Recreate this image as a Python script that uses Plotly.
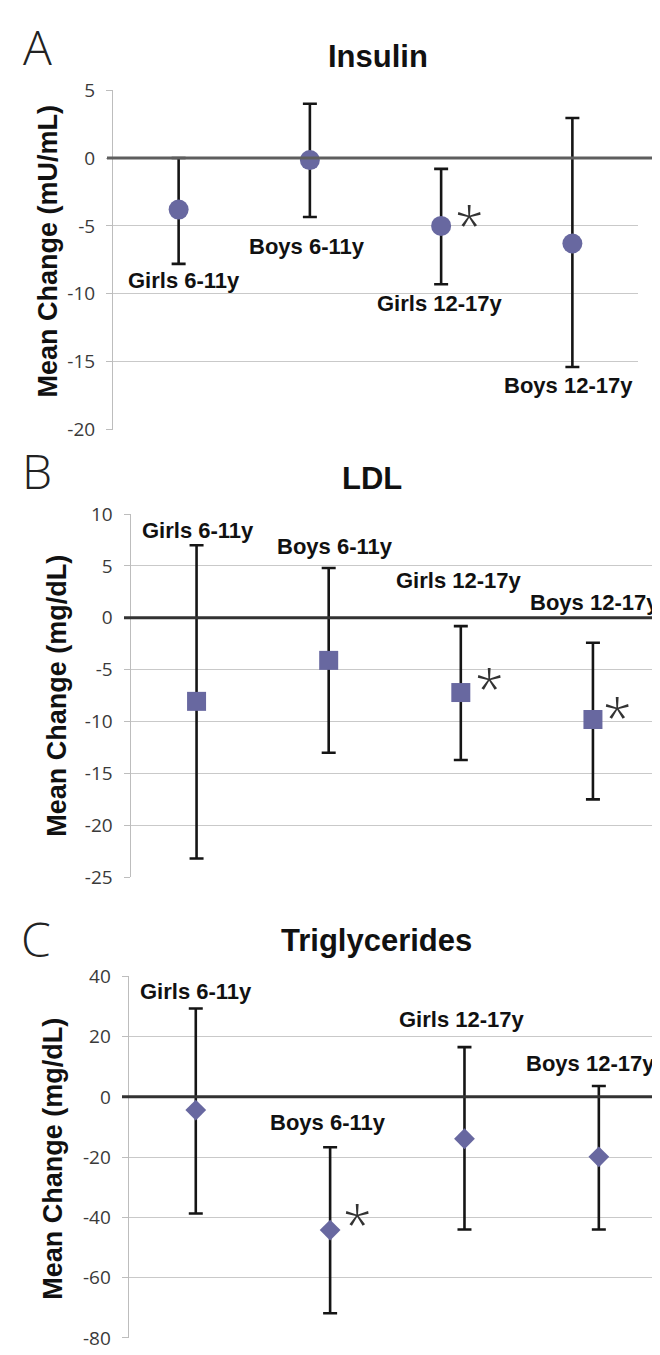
import plotly.graph_objects as go

# ---------------- data ----------------
groups = ["Girls 6-11y", "Boys 6-11y", "Girls 12-17y", "Boys 12-17y"]

insulin_mean = [-3.8, -0.15, -5.0, -6.3]
insulin_upper = [0.0, 4.0, -0.8, 2.95]
insulin_lower = [-7.8, -4.35, -9.3, -15.4]

ldl_mean = [-8.05, -4.1, -7.2, -9.8]
ldl_upper = [7.0, 4.8, -0.8, -2.4]
ldl_lower = [-23.2, -13.0, -13.7, -17.5]

tg_mean = [-4.4, -44.2, -13.9, -19.9]
tg_upper = [29.3, -16.7, 16.5, 3.6]
tg_lower = [-38.7, -71.8, -44.0, -44.0]

# group labels placed at these y values (data units)
insulin_label_y = [-9.05, -6.5, -10.75, -16.75]
ldl_label_y = [8.45, 6.9, 3.6, 1.5]
tg_label_y = [35.0, -8.5, 25.7, 11.0]

# significance marks: (group index, y value)
insulin_stars = [(2, -4.36)]
ldl_stars = [(2, -6.05), (3, -8.83)]
tg_stars = [(1, -39.6)]

insulin_ticks = [5, 0, -5, -10, -15, -20]
ldl_ticks = [10, 5, 0, -5, -10, -15, -20, -25]
tg_ticks = [40, 20, 0, -20, -40, -60, -80]

# ---------------- layout helpers ----------------
W, H = 660, 1355


def fx(p):
    return p / W


def fy(p):
    return 1 - p / H


MARKER_COLOR = "#6868a0"
BAR_COLOR = "#151515"
GRID = "#c9c9c9"
LABEL_FONT = dict(family="Liberation Sans, Arial, sans-serif", size=22, color="#111111")
TITLE_FONT = dict(family="Liberation Sans, Arial, sans-serif", size=31, color="#111111")
TICK_FONT = dict(family="Open Sans, sans-serif", size=19, color="#3a3a3a")
STAR_FONT = dict(family="Open Sans, sans-serif", size=52, color="#333333", weight=300)

panels = [
    dict(letter="A", title="Insulin", ytitle="Mean Change (mU/mL)",
         mean=insulin_mean, up=insulin_upper, lo=insulin_lower,
         labels_y=insulin_label_y, label_dx=[5, -3, -1, -4],
         stars=insulin_stars, ticks=insulin_ticks,
         symbol="circle", msize=20,
         xl=105, xr=630, yt=70.5, yb=416.5, zx0=99, zx1=646, zcol="#5e5e5e",
         letter_xy=(29, 26), title_xy=(370, 36), ytitle_xy=(40, 235),
         star_shift=[28]),
    dict(letter="B", title="LDL", ytitle="Mean Change (mg/dL)",
         mean=ldl_mean, up=ldl_upper, lo=ldl_lower,
         labels_y=ldl_label_y, label_dx=[1, 6, -2, 2],
         stars=ldl_stars, ticks=ldl_ticks,
         symbol="square", msize=19,
         xl=122.5, xr=651, yt=502.7, yb=873, zx0=116, zx1=659, zcol="#333333",
         letter_xy=(29, 458), title_xy=(364, 466), ytitle_xy=(49, 688),
         star_shift=[29, 25]),
    dict(letter="C", title="Triglycerides", ytitle="Mean Change (mg/dL)",
         mean=tg_mean, up=tg_upper, lo=tg_lower,
         labels_y=tg_label_y, label_dx=[0, -2, -2, -8],
         stars=tg_stars, ticks=tg_ticks,
         symbol="diamond", msize=16,
         xl=120.6, xr=658, yt=974, yb=1342.7, zx0=114, zx1=660, zcol="#333333",
         letter_xy=(28, 935), title_xy=(368, 937), ytitle_xy=(45, 1160),
         star_shift=[27]),
]

fig = go.Figure()
annotations = []
shapes = []
layout = {}

for i, p in enumerate(panels, start=1):
    xa = "x" if i == 1 else f"x{i}"
    ya = "y" if i == 1 else f"y{i}"
    xkey = "xaxis" if i == 1 else f"xaxis{i}"
    ykey = "yaxis" if i == 1 else f"yaxis{i}"

    plus = [u - m for u, m in zip(p["up"], p["mean"])]
    minus = [m - l for m, l in zip(p["mean"], p["lo"])]

    fig.add_trace(go.Scatter(
        x=groups, y=p["mean"], mode="markers", xaxis=xa, yaxis=ya,
        marker=dict(symbol=p["symbol"], size=p["msize"], color=MARKER_COLOR,
                    line=dict(width=0)),
        error_y=dict(type="data", symmetric=False, array=plus, arrayminus=minus,
                     color=BAR_COLOR, thickness=2.6, width=7),
        showlegend=False, hoverinfo="x+y", cliponaxis=False,
    ))

    ticks = p["ticks"]
    layout[xkey] = dict(
        domain=[fx(p["xl"]), fx(p["xr"])], anchor=ya, type="category",
        categoryorder="array", categoryarray=groups, range=[-0.5, 3.5],
        showticklabels=False, showgrid=False, zeroline=False, showline=False,
        ticks="", fixedrange=True,
    )
    layout[ykey] = dict(
        domain=[fy(p["yb"]), fy(p["yt"])], anchor=xa,
        range=[min(ticks), max(ticks)], tickvals=ticks,
        ticktext=[str(t) for t in ticks],
        showgrid=True, gridcolor=GRID, gridwidth=1, zeroline=False,
        showline=True, linecolor="#bdbdbd", linewidth=1,
        ticks="outside", ticklen=6, tickcolor="#bdbdbd", tickwidth=1,
        tickfont=TICK_FONT, ticklabelstandoff=7, fixedrange=True,
    )

    # zero reference line (extends past the plotting area as in the original)
    shapes.append(dict(type="line", xref="paper", yref=ya,
                       x0=fx(p["zx0"]), x1=fx(p["zx1"]), y0=0, y1=0,
                       line=dict(color=p["zcol"], width=3), layer="above"))

    # group labels
    for g, ly, dx in zip(groups, p["labels_y"], p["label_dx"]):
        annotations.append(dict(x=g, y=ly, xref=xa, yref=ya, text=f"<b>{g}</b>",
                                showarrow=False, font=LABEL_FONT, xshift=dx,
                                xanchor="center", yanchor="middle"))
    # significance stars
    for (gi, sy), sh in zip(p["stars"], p["star_shift"]):
        annotations.append(dict(x=groups[gi], y=sy, xref=xa, yref=ya, text="*",
                                showarrow=False, xshift=sh, yshift=-6,
                                font=STAR_FONT,
                                xanchor="center", yanchor="middle"))
    # panel letter
    lx, ly_ = p["letter_xy"]
    annotations.append(dict(x=fx(lx), y=fy(ly_), xref="paper", yref="paper",
                            text=p["letter"], showarrow=False,
                            font=dict(family="Open Sans, sans-serif", size=48,
                                      color="#222222", weight=300),
                            xanchor="center", yanchor="middle"))
    # panel title
    tx, ty = p["title_xy"]
    annotations.append(dict(x=fx(tx), y=fy(ty), xref="paper", yref="paper",
                            text=f"<b>{p['title']}</b>", showarrow=False,
                            font=TITLE_FONT, xanchor="center", yanchor="middle"))
    # y-axis title
    ax_, ay_ = p["ytitle_xy"]
    annotations.append(dict(x=fx(ax_), y=fy(ay_), xref="paper", yref="paper",
                            text=f"<b>{p['ytitle']}</b>", showarrow=False,
                            textangle=-90,
                            font=dict(family="Liberation Sans, Arial, sans-serif",
                                      size=27, color="#111111"),
                            xanchor="center", yanchor="middle"))

fig.update_layout(
    width=W, height=H, margin=dict(l=0, r=0, t=0, b=0),
    paper_bgcolor="white", plot_bgcolor="white",
    annotations=annotations, shapes=shapes, showlegend=False,
    **layout,
)

fig.write_html("out.html")
